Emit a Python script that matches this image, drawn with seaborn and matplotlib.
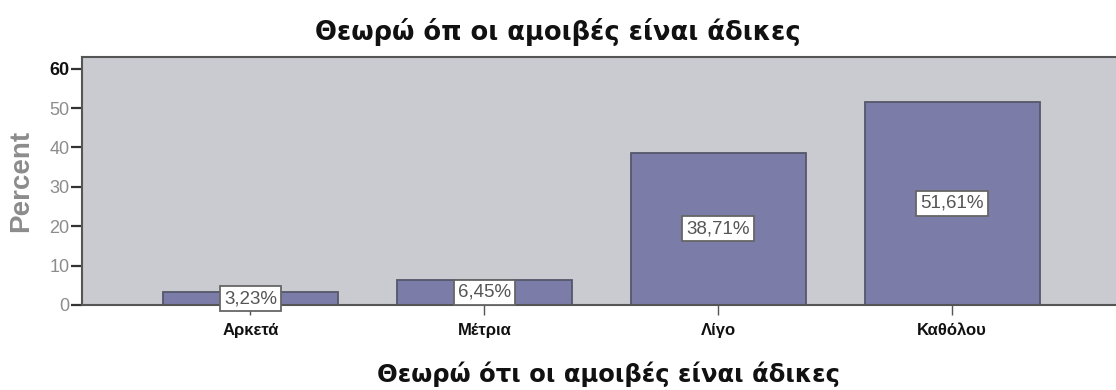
import matplotlib
matplotlib.use("Agg")
import matplotlib.pyplot as plt
import seaborn as sns
import pandas as pd

categories = ["Αρκετά", "Μέτρια", "Λίγο", "Καθόλου"]
percents = [3.23, 6.45, 38.71, 51.61]
value_labels = ["3,23%", "6,45%", "38,71%", "51,61%"]
y_ticks = [0, 10, 20, 30, 40, 50, 60]

title_text = "Θεωρώ όπ οι αμοιβές είναι άδικες"
xlabel_text = "Θεωρώ ότι οι αμοιβές είναι άδικες"
ylabel_text = "Percent"

sns.set_theme(style="white")
plt.rcParams["font.family"] = ["Liberation Sans", "DejaVu Sans"]

df = pd.DataFrame({"category": categories, "percent": percents})

fig = plt.figure(figsize=(11.16, 3.9), dpi=100)
ax = fig.add_axes([0.0735, 0.218, 0.9265, 0.636])
ax.set_facecolor("#c9cbd1")

sns.barplot(data=df, x="category", y="percent", order=categories,
            color="#7b7da8", saturation=1, width=0.75,
            edgecolor="#55576a", linewidth=1.3, ax=ax)

ax.set_xlim(-0.72, 3.70)
ax.set_ylim(0, 63)
ax.set_yticks(y_ticks)
ax.set_yticklabels([str(t) for t in y_ticks], fontsize=13)
for lbl in ax.get_yticklabels():
    if lbl.get_text() == "60":
        lbl.set_color("#111111")
        lbl.set_fontweight("bold")
    else:
        lbl.set_color("#8c8c8c")

ax.tick_params(axis="y", left=True, direction="out", length=8, width=1.6,
               color="#333333", pad=1)
ax.tick_params(axis="x", bottom=True, direction="out", length=7, width=1.0,
               color="#555555", pad=6, labelsize=12)
for lbl in ax.get_xticklabels():
    lbl.set_color("#111111")
    lbl.set_fontweight("bold")

for side in ["left", "bottom", "top"]:
    ax.spines[side].set_visible(True)
    ax.spines[side].set_color("#555555")
    ax.spines[side].set_linewidth(1.5)
ax.spines["right"].set_visible(False)

for i, (v, txt) in enumerate(zip(percents, value_labels)):
    ax.text(i, v / 2, txt, ha="center", va="center", fontsize=13.5, color="#555555",
            bbox=dict(boxstyle="square,pad=0.22", facecolor="white",
                      edgecolor="#666666", linewidth=1.3))

ax.set_ylabel(ylabel_text, fontsize=20, fontweight="bold", color="#8c8c8c")
ax.yaxis.set_label_coords(-0.046, 0.5)
ax.set_xlabel(xlabel_text, fontsize=17.5, fontweight="bold", color="#111111",
              family=["DejaVu Sans"], va="center")
ax.xaxis.set_label_coords(0.509, -0.28)

fig.text(0.50, 0.918, title_text, ha="center", va="center", fontsize=18.5,
         fontweight="bold", color="#111111", family=["DejaVu Sans"])

fig.savefig("out.png", dpi=100, facecolor="white")
